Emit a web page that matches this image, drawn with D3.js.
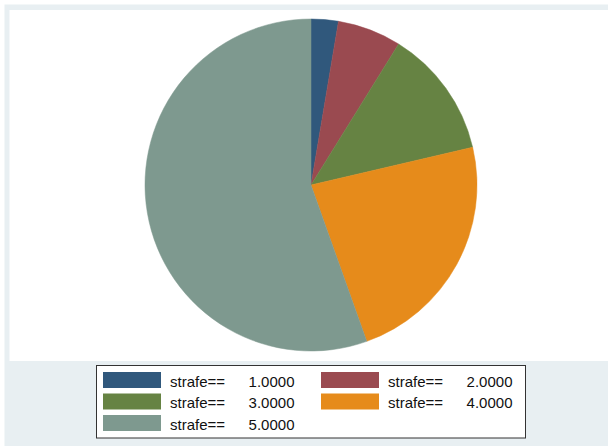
<!DOCTYPE html>
<html><head><meta charset="utf-8">
<script src="https://cdn.jsdelivr.net/npm/d3@7"></script>
<style>body{margin:0;background:#fff}svg{display:block}</style>
</head><body>
<script>
const categories = ["1.0000", "2.0000", "3.0000", "4.0000", "5.0000"];
const values = [2.65, 6.2, 12.5, 23.2, 55.45];
const colors = ["#30587c", "#9a4a50", "#668343", "#e68b1b", "#7e998f"];
const legendPrefix = "strafe==";

const W = 608, H = 446;
const svg = d3.select("body").append("svg").attr("width", W).attr("height", H);
svg.append("rect").attr("x", 4.5).attr("y", 4.5).attr("width", W - 4.5).attr("height", H - 4.5).attr("fill", "#e8eff2");
svg.append("rect").attr("x", 9.5).attr("y", 10).attr("width", W - 9.5).attr("height", 351).attr("fill", "#fff");

const cx = 311, cy = 185, R = 166;
const pie = d3.pie().sort(null).value(d => d.v);
const arc = d3.arc().innerRadius(0).outerRadius(R);
const data = categories.map((c, i) => ({c, v: values[i], col: colors[i]}));
const g = svg.append("g").attr("transform", `translate(${cx},${cy})`);
g.selectAll("path").data(pie(data)).join("path")
  .attr("d", arc).attr("fill", d => d.data.col)
  .attr("stroke", d => d.data.col).attr("stroke-width", 0.5);

// legend
const lg = svg.append("g");
lg.append("rect").attr("x", 96.5).attr("y", 365.5).attr("width", 429).attr("height", 72.5)
  .attr("fill", "#fff").attr("stroke", "#333").attr("stroke-width", 1);
const colX = [103, 321], rowY = [372, 393.5, 415];
data.forEach((d, i) => {
  const col = i % 2, row = Math.floor(i / 2);
  const x = colX[col], y = rowY[row];
  lg.append("rect").attr("x", x).attr("y", y).attr("width", 58).attr("height", 16).attr("fill", d.col);
  lg.append("text").attr("x", x + 67).attr("y", y + 14.5).attr("font-family", "Liberation Sans, Arial, sans-serif")
    .attr("font-size", 15).attr("fill", "#111").text(legendPrefix);
  lg.append("text").attr("x", x + 191.5).attr("y", y + 14.5).attr("text-anchor", "end").attr("font-family", "Liberation Sans, Arial, sans-serif")
    .attr("font-size", 15).attr("fill", "#111").text(d.c);
});
</script>
</body></html>
